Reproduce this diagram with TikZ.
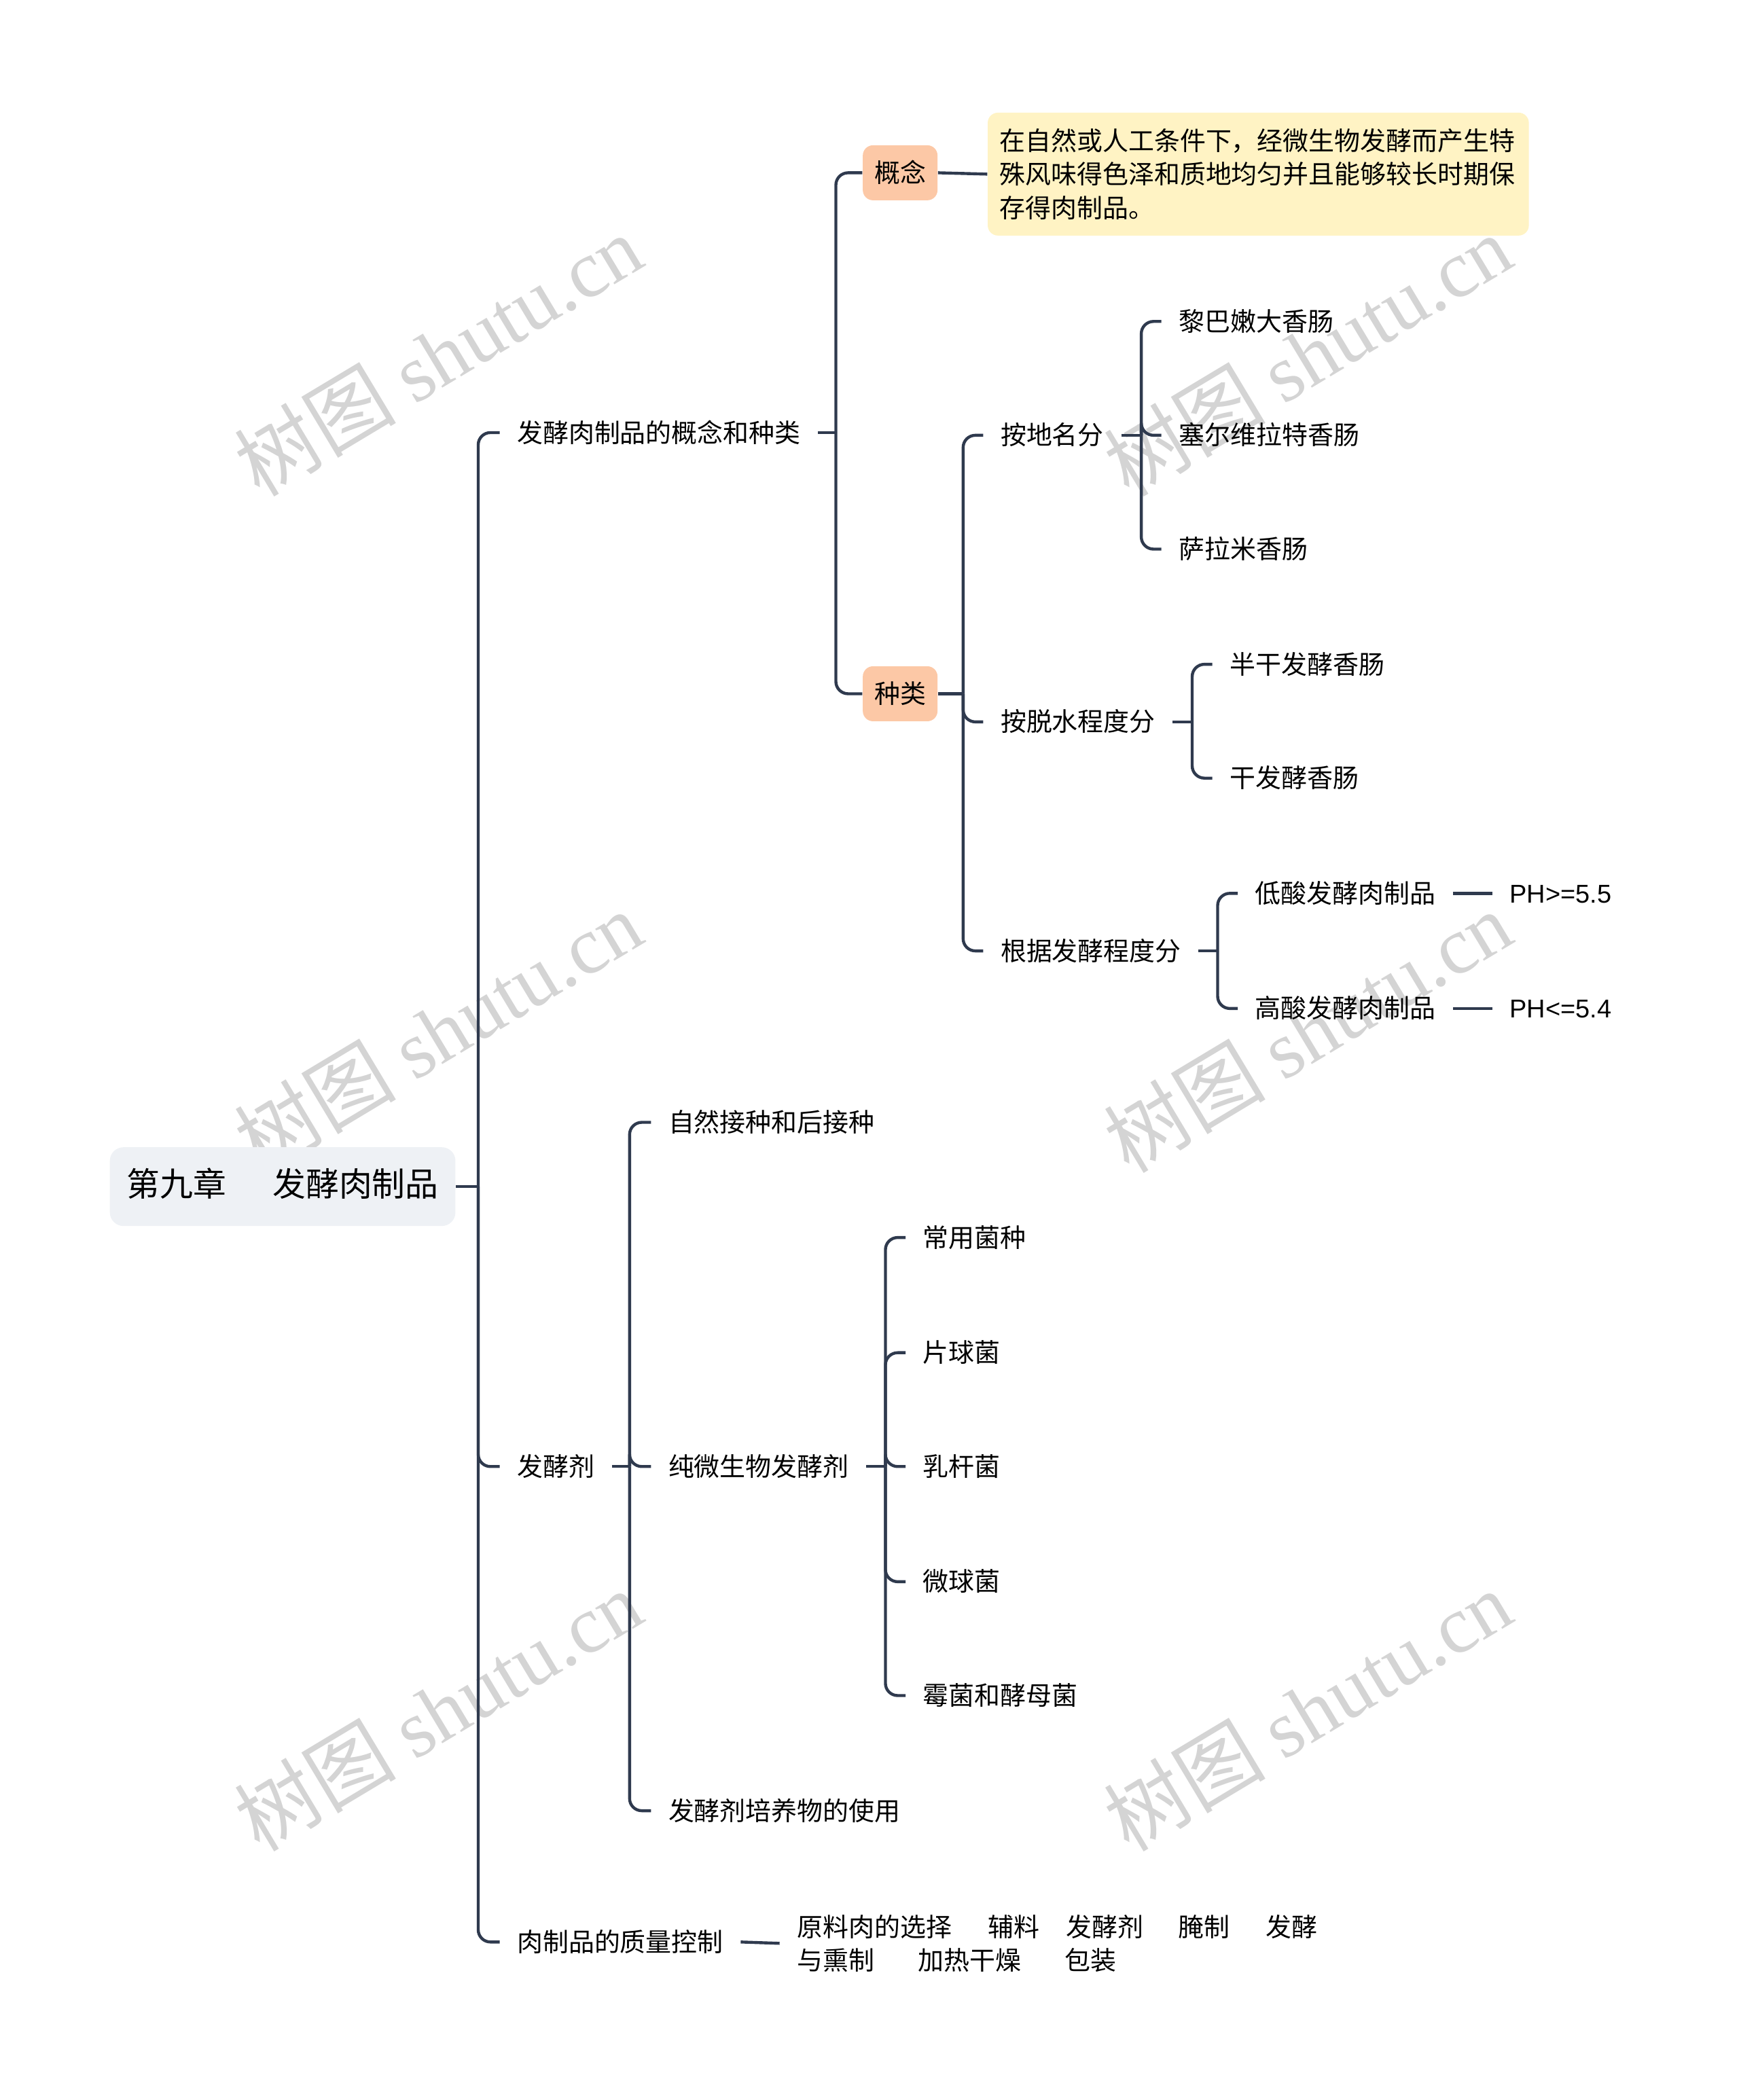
\documentclass[tikz,border=0pt]{standalone}
\usepackage{fontspec}
\setmainfont{Noto Sans CJK SC}
\newfontfamily\wmlatin{Liberation Serif}
\newfontfamily\phfont{Liberation Sans}
\usepackage{tikz}
\usetikzlibrary{positioning}

\definecolor{linecol}{RGB}{47,58,78}
\definecolor{rootfill}{RGB}{238,241,245}
\definecolor{tagfill}{RGB}{252,200,166}
\definecolor{notefill}{RGB}{255,243,196}
\definecolor{wmcol}{RGB}{212,212,212}

\tikzset{
  topic/.style={anchor=west, inner xsep=0.25cm, inner ysep=0.1cm,
    text height=0.95em, text depth=0.15em, font=\fontsize{10.8pt}{14pt}\selectfont},
  listtopic/.style={anchor=west, inner xsep=0.25cm, align=left,
    font=\fontsize{10.8pt}{14pt}\selectfont},
  rootbox/.style={fill=rootfill, rounded corners=0.2cm, minimum width=5.09cm,
    minimum height=1.16cm, text height=0.95em, text depth=0.15em,
    font=\fontsize{13.9pt}{16pt}\selectfont},
  tagbox/.style={fill=tagfill, rounded corners=0.15cm, minimum width=1.1cm,
    minimum height=0.81cm, text height=0.95em, text depth=0.15em,
    font=\fontsize{10.8pt}{14pt}\selectfont},
  notebox/.style={fill=notefill, rounded corners=0.15cm, anchor=west, align=left,
    text width=7.62cm, inner xsep=0.175cm, minimum height=1.81cm,
    font=\fontsize{10.8pt}{14pt}\selectfont},
  stub/.style={draw=linecol, line width=1.25pt},
  branch/.style={draw=linecol, line width=1.25pt, rounded corners=0.18cm},
  watermark/.style={text=wmcol, rotate=31, font=\fontsize{34pt}{34pt}\selectfont}
}

\begin{document}
\begin{tikzpicture}[x=0.019723cm, y=-0.019723cm]
    \useasboundingbox (0,0) rectangle (1298,1568);

    % watermarks
    \foreach \wx in {327,976}
        \foreach \wy in {265,770,1277}
            \node[watermark] (wm-\wx-\wy) at (\wx,\wy) {树图 {\wmlatin shutu.cn}};

    % root
    \node[rootbox] (root) at (211,886) {第九章\hspace{1.4em}发酵肉制品};
    \coordinate (j0) at (357,886);
    \draw[stub] (root.east) -- (j0);

    \node[topic] (concept) at (373,323) {发酵肉制品的概念和种类};
    \node[topic] (starter) at (373,1095) {发酵剂};
    \node[topic] (quality) at (373,1450) {肉制品的质量控制};
    \foreach \c in {concept,starter,quality}
        \draw[branch] (j0) |- (\c.west);

    % concept and kinds
    \coordinate (j1) at (624,323);
    \draw[stub] (concept.east) -- (j1);
    \node[tagbox] (gainian) at (672,129) {概念};
    \node[tagbox] (zhonglei) at (672,518) {种类};
    \draw[branch] (j1) |- (gainian.west);
    \draw[branch] (j1) |- (zhonglei.west);

    \node[notebox] (define) at (737,130) {在自然或人工条件下，经微生物发酵而产生特\\殊风味得色泽和质地均匀并且能够较长时期保\\存得肉制品。};
    \draw[stub] (gainian.east) -- (define.west);

    \coordinate (j2) at (719,518);
    \draw[stub] (zhonglei.east) -- (j2);
    \node[topic] (byplace) at (734,325) {按地名分};
    \node[topic] (bydry) at (734,539) {按脱水程度分};
    \node[topic] (byferm) at (734,710) {根据发酵程度分};
    \foreach \c in {byplace,bydry,byferm}
        \draw[branch] (j2) |- (\c.west);

    \coordinate (j3) at (852,325);
    \draw[stub] (byplace.east) -- (j3);
    \foreach \n/\y/\t in {lebanon/240/黎巴嫩大香肠, cervelat/325/塞尔维拉特香肠, salami/410/萨拉米香肠} {
        \node[topic] (\n) at (867,\y) {\t};
        \draw[branch] (j3) |- (\n.west);
    }

    \coordinate (j4) at (890,539);
    \draw[stub] (bydry.east) -- (j4);
    \foreach \n/\y/\t in {semidry/496/半干发酵香肠, dry/581/干发酵香肠} {
        \node[topic] (\n) at (905,\y) {\t};
        \draw[branch] (j4) |- (\n.west);
    }

    \coordinate (j5) at (909,710);
    \draw[stub] (byferm.east) -- (j5);
    \node[topic] (lowacid) at (924,667) {低酸发酵肉制品};
    \node[topic] (highacid) at (924,753) {高酸发酵肉制品};
    \draw[branch] (j5) |- (lowacid.west);
    \draw[branch] (j5) |- (highacid.west);
    \node[topic] (phlow) at (1114,667) {\phfont PH>=5.5};
    \node[topic] (phhigh) at (1114,753) {\phfont PH<=5.4};
    \draw[stub] (lowacid.east) -- (phlow.west);
    \draw[stub] (highacid.east) -- (phhigh.west);

    % starter cultures
    \coordinate (j6) at (470,1095);
    \draw[stub] (starter.east) -- (j6);
    \node[topic] (natural) at (486,838) {自然接种和后接种};
    \node[topic] (pure) at (486,1095) {纯微生物发酵剂};
    \node[topic] (usage) at (486,1352) {发酵剂培养物的使用};
    \foreach \c in {natural,pure,usage}
        \draw[branch] (j6) |- (\c.west);

    \coordinate (j7) at (661,1095);
    \draw[stub] (pure.east) -- (j7);
    \foreach \n/\y/\t in {common/924/常用菌种, pedio/1010/片球菌, lacto/1095/乳杆菌, micro/1181/微球菌, mould/1266/霉菌和酵母菌} {
        \node[topic] (\n) at (676,\y) {\t};
        \draw[branch] (j7) |- (\n.west);
    }

    % quality control
    \node[listtopic] (steps) at (582,1451) {原料肉的选择\hspace{1.4em}辅料\hspace{1.04em}发酵剂\hspace{1.35em}腌制\hspace{1.4em}发酵\\与熏制\hspace{1.7em}加热干燥\hspace{1.7em}包装};
    \draw[stub] (quality.east) -- (steps.west);
\end{tikzpicture}
\end{document}
